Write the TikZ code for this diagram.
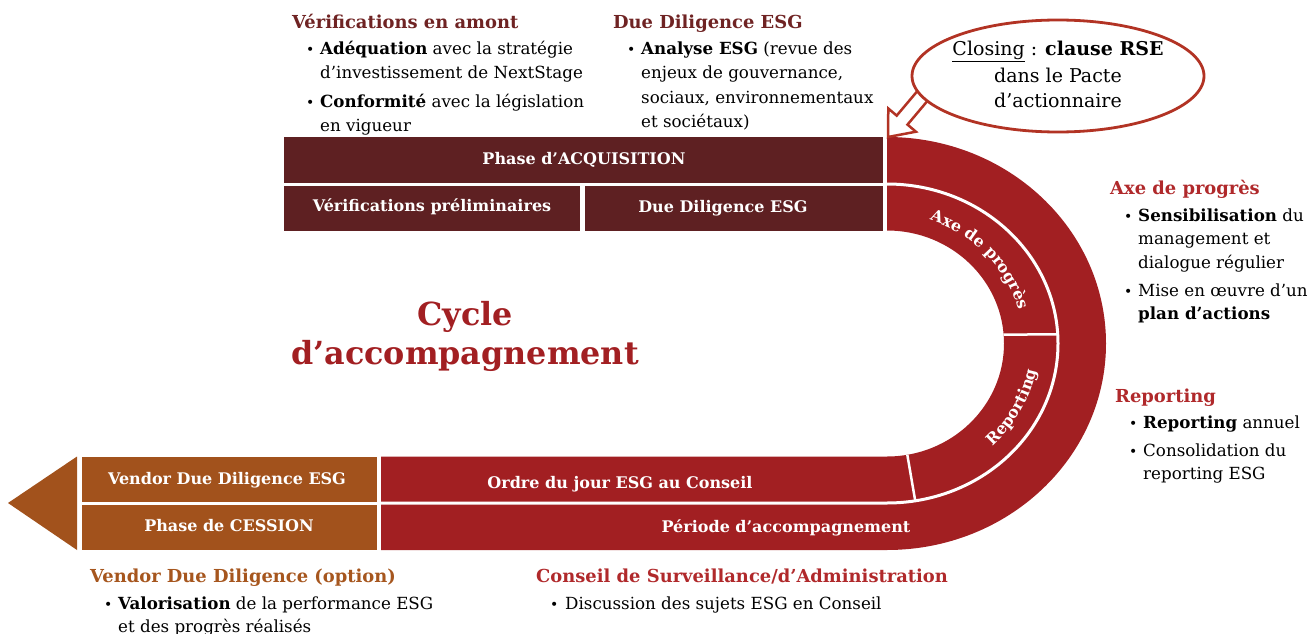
\documentclass[tikz,border=0pt]{standalone}
\usepackage{fontspec}
\setmainfont{DejaVu Serif}
\usetikzlibrary{decorations.text,calc}

\definecolor{barbrown}{HTML}{5E2022}
\definecolor{bandred}{HTML}{A21F22}
\definecolor{exitorange}{HTML}{A2521C}
\definecolor{headmaroon}{HTML}{6F2323}
\definecolor{headred}{HTML}{B0292B}
\definecolor{headorange}{HTML}{A6561E}
\definecolor{callout}{HTML}{B23324}

\newcommand\arcfont{\bfseries\fontsize{15.8}{15.8}\selectfont\color{white}}

\begin{document}
\begin{tikzpicture}[x=1pt,y=1pt,
  head/.style={anchor=base west,inner sep=0pt,font=\bfseries\fontsize{17.9}{17.9}\selectfont},
  body/.style={anchor=base west,inner sep=0pt,text=black,font=\fontsize{16.7}{16.7}\selectfont},
  bul/.style={anchor=base west,inner sep=0pt,text=black,font=\fontsize{14}{14}\selectfont},
  barlabel/.style={anchor=base,inner sep=0pt,text=white,font=\bfseries\fontsize{16}{16}\selectfont},
  bigtitle/.style={anchor=base,inner sep=0pt,text=bandred,font=\bfseries\fontsize{31.8}{31.8}\selectfont},
  closing/.style={anchor=base,inner sep=0pt,text=black,font=\fontsize{19}{19}\selectfont},
  sepline/.style={white,line width=3pt}]
\useasboundingbox (0,0) rectangle (1315,-634);

\coordinate (C) at (887,-343.5);

% acquisition bars
\fill[barbrown] (284,-137) rectangle (883,-182.5);
\fill[barbrown] (284,-185.5) rectangle (580,-230.5);
\fill[barbrown] (585,-185.5) rectangle (883,-230.5);

% accompanying period: U-shaped band
\fill[bandred] (887,-137) arc[start angle=90,end angle=-90,x radius=219pt,y radius=206.5pt]
  -- (381,-550) -- (381,-456.5) -- (887,-456.5)
  arc[start angle=-90,end angle=90,x radius=117pt,y radius=113pt] -- cycle;
\draw[sepline] (887,-184) arc[start angle=90,end angle=-90,x radius=171pt,y radius=159.5pt] -- (381,-503);
\draw[white,line width=2.5pt] ([shift={(C)}]4.5:117pt and 113pt) -- ([shift={(C)}]3.3:171pt and 159.5pt);
\draw[white,line width=2.5pt] ([shift={(C)}]-80:117pt and 113pt) -- ([shift={(C)}]-80.5:171pt and 159.5pt);

% exit phase with arrow head
\fill[exitorange] (8,-503) -- (77,-456.5) -- (77,-550) -- cycle;
\fill[exitorange] (82,-456.5) rectangle (377,-501.5);
\fill[exitorange] (82,-504.5) rectangle (377,-550);

% labels in the bars
\node[barlabel] (acq) at (584,-164.5) {Phase d’ACQUISITION};
\node[barlabel] (prelim) at (432,-211.5) {Vérifications préliminaires};
\node[barlabel] (ddesg) at (723,-212.5) {Due Diligence ESG};
\node[barlabel] (vdd) at (227,-484.5) {Vendor Due Diligence ESG};
\node[barlabel] (cess) at (229,-531.5) {Phase de CESSION};
\node[barlabel] (odj) at (620,-488.5) {Ordre du jour ESG au Conseil};
\node[barlabel] (period) at (786,-532.5) {Période d’accompagnement};

% labels along the ring
\path[decorate,decoration={text along path,text align=center,text={|\arcfont|Axe de progrès}}]
  ([shift={(C)}]86:136pt and 130pt) arc[start angle=86,end angle=0,x radius=136pt,y radius=130pt];
\path[decorate,decoration={text along path,text align=center,text={|\arcfont|Reporting}}]
  ([shift={(C)}]-68:152pt and 142pt) arc[start angle=-68,end angle=12,x radius=152pt,y radius=142pt];

% title
\node[bigtitle] (cyc1) at (465,-325) {Cycle};
\node[bigtitle] (cyc2) at (465,-364) {d’accompagnement};

% closing callout
\draw[callout,line width=2.5pt,fill=white,line join=miter]
  (888,-137) -- (915.9,-131.7) -- (907.5,-124.6) -- (929.4,-98.6) -- (918.6,-89.6)
  -- (896.7,-115.6) -- (888.3,-108.5) -- cycle;
\draw[callout,line width=2.8pt,fill=white] (1058,-76) ellipse[x radius=146pt,y radius=56pt];
\node[closing] (cl1) at (1058,-56) {\underline{Closing} : \textbf{clause RSE}};
\node[closing] (cl2) at (1058,-82) {dans le Pacte};
\node[closing] (cl3) at (1058,-107) {d’actionnaire};

% upstream checks
\node[head,text=headmaroon] (h1) at (292,-29) {Vérifications en amont};
\node[bul] (b11) at (306,-55) {•};
\node[body] (t11) at (320,-55) {\textbf{Adéquation} avec la stratégie};
\node[body] (t12) at (320,-79) {d’investissement de NextStage};
\node[bul] (b12) at (306,-107) {•};
\node[body] (t13) at (320,-107) {\textbf{Conformité} avec la législation};
\node[body] (t14) at (320,-131) {en vigueur};

% ESG due diligence
\node[head,text=headmaroon] (h2) at (613,-29) {Due Diligence ESG};
\node[bul] (b21) at (627,-55) {•};
\node[body] (t21) at (641,-55) {\textbf{Analyse ESG} (revue des};
\node[body] (t22) at (641,-79) {enjeux de gouvernance,};
\node[body] (t23) at (641,-103) {sociaux, environnementaux};
\node[body] (t24) at (641,-127) {et sociétaux)};

% progress axis
\node[head,text=headred] (h3) at (1110,-194) {Axe de progrès};
\node[bul] (b31) at (1124,-221) {•};
\node[body] (t31) at (1138,-221) {\textbf{Sensibilisation} du};
\node[body] (t32) at (1138,-244) {management et};
\node[body] (t33) at (1138,-268) {dialogue régulier};
\node[bul] (b32) at (1124,-296) {•};
\node[body] (t34) at (1138,-296) {Mise en œuvre d’un};
\node[body] (t35) at (1138,-319) {\textbf{plan d’actions}};

% reporting
\node[head,text=headred] (h4) at (1115,-402) {Reporting};
\node[bul] (b41) at (1129,-428) {•};
\node[body] (t41) at (1143,-428) {\textbf{Reporting} annuel};
\node[bul] (b42) at (1129,-456) {•};
\node[body] (t42) at (1143,-456) {Consolidation du};
\node[body] (t43) at (1143,-479) {reporting ESG};

% vendor due diligence
\node[head,text=headorange] (h5) at (90,-582) {Vendor Due Diligence (option)};
\node[bul] (b51) at (104,-609) {•};
\node[body] (t51) at (118,-609) {\textbf{Valorisation} de la performance ESG};
\node[body] (t52) at (118,-632) {et des progrès réalisés};

% board
\node[head,text=headred] (h6) at (536,-582) {Conseil de Surveillance/d’Administration};
\node[bul] (b61) at (550,-609) {•};
\node[body] (t61) at (565,-609) {Discussion des sujets ESG en Conseil};

\end{tikzpicture}
\end{document}
